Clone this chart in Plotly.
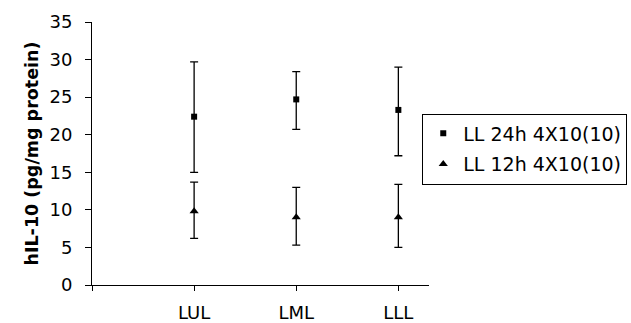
import plotly.graph_objects as go

categories = ["LUL", "LML", "LLL"]
series_names = ["LL 24h 4X10(10)", "LL 12h 4X10(10)"]
vals_24h = [22.4, 24.7, 23.3]
upper_24h = [29.7, 28.4, 29.0]
lower_24h = [15.0, 20.7, 17.2]
vals_12h = [9.8, 9.0, 9.0]
upper_12h = [13.7, 13.0, 13.4]
lower_12h = [6.2, 5.3, 5.0]

xpos = [i + 1 for i in range(len(categories))]
FONT = "DejaVu Sans, Liberation Sans, Arial, sans-serif"

def trace(name, vals, up, lo, symbol, size, group):
    return go.Scatter(
        x=xpos, y=vals, name=name, mode="markers", legendgroup=group,
        marker=dict(symbol=symbol, size=size, color="black"),
        error_y=dict(type="data", symmetric=False,
                     array=[u - v for u, v in zip(up, vals)],
                     arrayminus=[v - l for v, l in zip(vals, lo)],
                     color="black", thickness=1.3, width=4),
    )

fig = go.Figure()
fig.add_trace(trace(series_names[0], vals_24h, upper_24h, lower_24h, "square", 6, "a"))
fig.add_trace(trace(series_names[1], vals_12h, upper_12h, lower_12h, "triangle-up", 8, "b"))

fig.update_layout(
    width=631, height=323,
    margin=dict(l=92, r=202, t=22, b=38, autoexpand=False),
    paper_bgcolor="white", plot_bgcolor="white",
    font=dict(family=FONT, size=18, color="black"),
    showlegend=True,
    legend=dict(x=0.98, y=0.652, xanchor="left", yanchor="top",
                bordercolor="black", borderwidth=1, bgcolor="white",
                font=dict(size=19, family=FONT), itemwidth=30,
                tracegroupgap=3),
    xaxis=dict(range=[0, 3.3], tickvals=[0] + xpos, ticktext=[""] + categories,
               showgrid=False, zeroline=False, showline=True, linecolor="black",
               linewidth=1, ticks="outside", ticklen=5, tickcolor="black",
               ticklabelstandoff=6, tickfont=dict(size=18), automargin=False),
    yaxis=dict(range=[0, 35], dtick=5, showgrid=False, zeroline=False,
               showline=True, linecolor="black", linewidth=1,
               ticks="outside", ticklen=6, tickcolor="black",
               ticklabelstandoff=9, tickfont=dict(size=18), automargin=False),
    annotations=[dict(text="<b>hIL-10 (pg/mg protein)</b>", xref="paper", yref="paper",
                      x=-0.181, y=0.5, xanchor="center", yanchor="middle",
                      textangle=-90, showarrow=False, font=dict(size=17.5, family=FONT))],
)

fig.write_html("out.html", config={"displayModeBar": False},
               post_script="document.body.style.margin='0';document.body.style.overflow='hidden';")
